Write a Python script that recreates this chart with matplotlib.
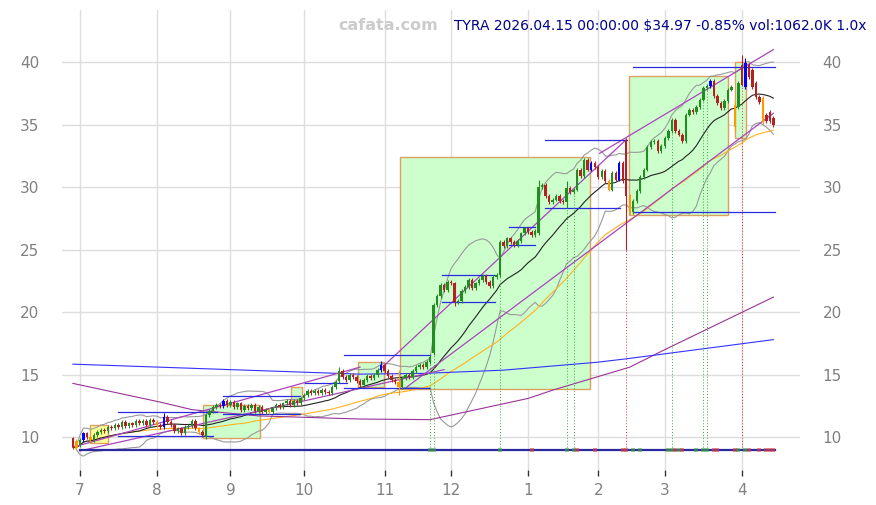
import matplotlib.pyplot as plt
import numpy as np
import pandas as pd

# daily closes, bar 0 = 2025-06-27 ... bar 200 = 2026-04-15
closes = [
    9.2, 9.1, 9.8, 10.3, 10.0, 9.8, 10.2, 10.4, 10.6, 10.5,
    10.8, 10.7, 11.0, 10.8, 11.2, 10.9, 11.1, 11.0, 11.3, 11.1,
    11.3, 11.0, 11.4, 11.2, 11.0, 10.8, 11.6, 11.2, 11.0, 10.5,
    10.7, 10.3, 10.8, 10.9, 11.3, 10.7, 10.4, 10.2, 11.8, 12.1,
    12.4, 12.6, 12.5, 12.9, 12.6, 12.8, 12.4, 12.7, 12.2, 12.5,
    12.3, 12.6, 12.1, 12.4, 12.0, 12.2, 12.0, 12.3, 12.6, 12.4,
    12.7, 12.9, 12.6, 12.9, 12.7, 13.1, 13.4, 13.7, 13.5, 13.7,
    13.5, 13.8, 13.6, 13.5, 14.0, 14.4, 15.3, 14.8, 14.6, 15.0,
    14.8, 14.5, 14.2, 14.6, 14.9, 14.7, 15.0, 15.4, 15.8, 15.3,
    14.9, 14.6, 14.4, 14.0, 14.7, 15.0, 14.8, 15.3, 15.6, 15.8,
    15.6, 16.0, 16.4, 20.6, 21.3, 22.2, 21.8, 22.4, 22.3, 20.8,
    20.9, 21.7, 22.0, 22.6, 21.9, 22.3, 22.6, 22.9, 22.4, 22.1,
    22.8, 23.0, 25.6, 25.3, 25.9, 25.6, 25.4, 25.7, 26.3, 26.7,
    26.4, 26.2, 26.5, 30.0, 30.2, 29.3, 28.8, 29.0, 29.3, 28.9,
    28.8, 29.9, 29.6, 29.8, 31.4, 30.9, 32.2, 31.4, 31.9, 31.6,
    30.8, 31.3, 30.5, 29.8, 31.1, 30.6, 31.9, 30.5, 29.3, 28.0,
    28.9, 29.7, 30.8, 31.4, 33.2, 33.6, 33.7, 32.9, 33.3, 33.9,
    34.5, 35.4, 34.5, 34.2, 33.7, 35.8, 36.2, 36.0, 36.4, 37.0,
    37.9, 38.1, 38.5, 37.3, 36.7, 36.3, 36.9, 37.8, 38.0, 34.8,
    38.3, 38.2, 39.9, 38.8, 38.0, 37.2, 36.8, 35.2, 35.3, 35.27,
    34.97,
]
# bars that opened away from the previous close
gap_opens = {0: 9.9, 1: 9.7, 2: 9.4, 38: 10.0, 76: 14.5, 103: 16.7, 122: 23.0,
             133: 26.3, 158: 33.8, 189: 36.6, 190: 36.4, 191: 39.8, 192: 38.0,
             193: 39.8, 194: 39.4, 195: 38.3, 197: 37.1, 198: 35.8, 199: 36.0, 200: 35.5}
wick_hi = {26: 11.9, 76: 15.6, 88: 16.1, 93: 15.4, 133: 30.6, 141: 30.5,
           158: 33.9, 189: 37.0, 191: 40.6, 192: 40.3}
wick_lo = {93: 13.4, 109: 20.5, 133: 26.2, 141: 28.3, 158: 25.0, 189: 34.4}
blue_bars = [3, 26, 43, 88, 148, 156, 182, 192]
orange_bars = [1, 5, 24, 36, 56, 93, 153, 159, 189, 197]

month_ticks = [2, 24, 45, 66, 89, 108, 130, 150, 169, 191]
month_labels = ['7', '8', '9', '10', '11', '12', '1', '2', '3', '4']

# long moving averages (need history before the window)
ma200_idx = [0, 25, 34, 53, 82, 102, 130, 137, 159, 169, 200]
ma200_val = [14.3, 12.8, 12.2, 11.7, 11.45, 11.4, 13.1, 13.76, 15.6, 17.0, 21.2]
ma_blue_idx = [0, 82, 100, 123, 150, 159, 200]
ma_blue_val = [15.84, 15.04, 15.1, 15.36, 16.0, 16.3, 17.8]

# trend lines: (start bar, start price, end bar, end price)
trend_lines = [
    (0, 9.2, 82, 15.6),
    (2, 8.9, 106, 15.4),
    (87.6, 15.4, 158, 33.8),
    (150.4, 32.7, 200, 41.0),
    (95.3, 14.0, 200, 35.9),
]

# consolidation boxes: (bar from, bar to, low, high, fill)
boxes = [
    (4.9, 10.0, 9.5, 11.0, '#ffff99'),
    (37.1, 53.4, 9.9, 12.56, '#ccffcc'),
    (62.4, 65.3, 13.0, 14.0, '#ccffcc'),
    (81.4, 88.8, 14.0, 16.0, '#ccffcc'),
    (93.3, 147.6, 13.85, 32.4, '#ccffcc'),
    (158.7, 187.0, 27.8, 38.9, '#ccffcc'),
    (189.0, 192.1, 33.9, 40.0, '#ccffcc'),
]

# support / resistance levels: (bar from, bar to, price)
levels = [
    (12.8, 41.1, 12.0), (12.8, 40.0, 10.08), (42.8, 64.8, 11.84), (42.8, 64.8, 13.3),
    (66.2, 78.2, 14.3), (77.4, 101.9, 16.6), (77.4, 101.9, 13.9),
    (105.3, 120.5, 22.96), (105.3, 120.5, 20.8), (124.5, 131.9, 26.8), (124.5, 131.9, 25.4),
    (134.7, 156.2, 28.3), (134.7, 158.2, 33.8), (159.9, 200.4, 39.6), (159.9, 200.4, 28.0),
]

buy_marks = [102, 103, 122, 141, 143, 160, 162, 170, 171, 173, 178, 180, 181, 190, 192]
sell_marks = [131, 144, 149, 157, 158, 172, 174, 183, 184, 189, 193, 196, 198, 199, 200]
buy_lines = [102, 103, 122, 141, 143, 171, 180, 181]
sell_lines = [158, 191]
signal_floor = 9.0

n = len(closes)
idx = np.arange(n)
close = pd.Series(closes)
opens = close.shift(1).fillna(close.iloc[0]).values.copy()
for k, v in gap_opens.items():
    opens[k] = v
body_hi = np.maximum(opens, close.values)
body_lo = np.minimum(opens, close.values)
highs = np.array([wick_hi.get(i, body_hi[i] + 0.15) for i in range(n)])
lows = np.array([wick_lo.get(i, body_lo[i] - 0.15) for i in range(n)])

sma20 = close.rolling(20, min_periods=1).mean()
std20 = close.rolling(20, min_periods=2).std()
sma50 = close.rolling(50, min_periods=1).mean()

fig = plt.figure(figsize=(8.76, 5.05), dpi=100)
ax = fig.add_axes([0.0708, 0.069, 0.842, 0.911])

for i0, i1, lo, hi, fc in boxes:
    ax.add_patch(plt.Rectangle((i0, lo), i1 - i0, hi - lo, facecolor=fc,
                               edgecolor='#dda060', lw=1.0, zorder=1))

ax.plot(idx, sma20 + 2 * std20, color='#999999', lw=0.8, zorder=2)
ax.plot(idx, sma20 - 2 * std20, color='#999999', lw=0.8, zorder=2)
ax.plot(idx, sma50, color='#ffb020', lw=0.8, zorder=2)
ax.plot(idx, sma20, color='#222222', lw=0.8, zorder=2)
ax.plot(ma200_idx, ma200_val, color='#993399', lw=0.8, zorder=2)
ax.plot(ma_blue_idx, ma_blue_val, color='#3333ff', lw=0.8, zorder=2)
for i0, p0, i1, p1 in trend_lines:
    ax.plot([i0, i1], [p0, p1], color='#aa44bb', lw=0.9, zorder=2)
for i0, i1, p in levels:
    ax.plot([i0, i1], [p, p], color='#2a2ae0', lw=0.9, zorder=2)

for i in buy_lines:
    ax.plot([i, i], [signal_floor, lows[i]], color='#33aa33', lw=0.7, ls=(0, (1, 2)), zorder=2)
for i in sell_lines:
    ax.plot([i, i], [signal_floor, highs[i]], color='#dd3333', lw=0.7, ls=(0, (1, 2)), zorder=2)

ax.plot([2, 200.4], [signal_floor, signal_floor], color='#2a2aa0', lw=1.6, zorder=3)
ax.scatter(buy_marks, [signal_floor] * len(buy_marks), marker='s', s=9,
           color='#44aa44', alpha=0.6, lw=0, zorder=4)
ax.scatter(sell_marks, [signal_floor] * len(sell_marks), marker='s', s=9,
           color='#dd4444', alpha=0.6, lw=0, zorder=4)

colors = []
for i in range(n):
    if i in blue_bars:
        colors.append('#0000ff')
    elif i in orange_bars:
        colors.append('#ff9900')
    elif close[i] >= opens[i]:
        colors.append('#228b22')
    else:
        colors.append('#b22222')
ax.vlines(idx, lows, highs, colors=colors, lw=0.8, zorder=5)
ax.bar(idx, np.maximum(body_hi - body_lo, 0.08), bottom=body_lo, width=0.7,
       color=colors, lw=0, zorder=5)

ax.set_xlim(-3.1, 207.5)
ax.set_ylim(7.36, 44.16)
ax.set_xticks(month_ticks)
ax.set_xticklabels(month_labels)
ax.set_yticks([10, 15, 20, 25, 30, 35, 40])
ax.grid(True, color='#dddddd', lw=1.0, zorder=0)
ax.set_axisbelow(True)
for s in ax.spines.values():
    s.set_visible(False)
ax.tick_params(axis='y', left=False, right=False, labelleft=True, labelright=True,
               labelsize=11, labelcolor='#808080', pad=13)
ax.tick_params(axis='x', length=4, width=1, color='#333333', labelsize=11,
               labelcolor='#808080', pad=5)

fig.text(0.386, 0.949, 'cafata.com', color='#cccccc', fontsize=11.5,
         fontweight='bold', va='center')
fig.text(0.518, 0.949, 'TYRA 2026.04.15 00:00:00 $34.97 -0.85% vol:1062.0K 1.0x',
         color='#00008b', fontsize=10, va='center')

plt.savefig('out.png', dpi=100)
